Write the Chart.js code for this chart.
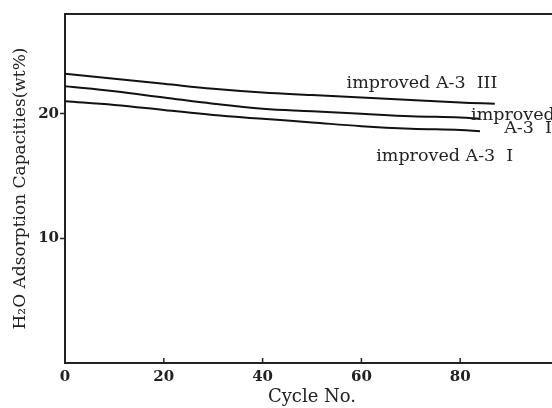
<!DOCTYPE html>
<html>
<head>
<meta charset="utf-8">
<script src="https://cdn.jsdelivr.net/npm/chart.js@4/dist/chart.umd.min.js"></script>
<style>
    html, body { margin: 0; padding: 0; background: #fff; overflow: hidden; }
    #wrap { width: 580px; height: 408px; }
</style>
</head>
<body>
<div id="wrap"><canvas id="cycleChart" width="580" height="408"></canvas></div>
<script>
const cycles = [0, 10, 20, 30, 40, 50, 60, 70, 80, 84];
const cyclesIII = [0, 10, 20, 30, 40, 50, 60, 70, 80, 87];
const capacityIII = [23.2, 22.8, 22.4, 22.0, 21.7, 21.5, 21.3, 21.1, 20.9, 20.8];
const capacityII = [22.2, 21.8, 21.3, 20.8, 20.4, 20.2, 20.0, 19.8, 19.7, 19.6];
const capacityI = [21.0, 20.7, 20.3, 19.9, 19.6, 19.3, 19.0, 18.8, 18.7, 18.6];
const yTickValues = [10, 20];
const xTickValues = [0, 20, 40, 60, 80];
const seriesLabels = [
    { text: "improved A-3  III", x: 57, y: 22.4 },
    { text: "improved", x: 82.2, y: 19.85 },
    { text: "A-3  II", x: 88.9, y: 18.8 },
    { text: "improved A-3  I", x: 63, y: 16.6 }
];

const serif = "'DejaVu Serif', 'Liberation Serif', serif";

function toPoints(xs, ys) {
    return xs.map((x, i) => ({ x: x, y: ys[i] }));
}

const lineStyle = {
    borderColor: "#111",
    borderWidth: 2,
    pointRadius: 0,
    tension: 0.4,
    fill: false
};

// text labels + inward x ticks
const annotate = {
    id: "annotate",
    afterDatasetsDraw(chart) {
        const { ctx, scales: { x, y } } = chart;
        ctx.save();
        ctx.strokeStyle = "#222";
        ctx.lineWidth = 1.5;
        for (const v of xTickValues.slice(1)) {
            const px = x.getPixelForValue(v);
            ctx.beginPath();
            ctx.moveTo(px, y.bottom);
            ctx.lineTo(px, y.bottom - 5);
            ctx.stroke();
        }
        ctx.fillStyle = "#222";
        ctx.font = "17.5px " + serif;
        ctx.textBaseline = "middle";
        ctx.textAlign = "left";
        for (const lab of seriesLabels) {
            ctx.fillText(lab.text, x.getPixelForValue(lab.x), y.getPixelForValue(lab.y));
        }
        ctx.restore();
    }
};

new Chart(document.getElementById("cycleChart").getContext("2d"), {
    type: "line",
    data: {
        datasets: [
            { label: "improved A-3 III", data: toPoints(cyclesIII, capacityIII), ...lineStyle },
            { label: "improved A-3 II", data: toPoints(cycles, capacityII), ...lineStyle },
            { label: "improved A-3 I", data: toPoints(cycles, capacityI), ...lineStyle }
        ]
    },
    options: {
        responsive: false,
        animation: false,
        layout: { padding: { top: 14, right: 21, left: 0, bottom: 0 } },
        scales: {
            x: {
                type: "linear",
                min: 0,
                max: 100,
                afterFit(scale) { scale.height = 45; },
                afterBuildTicks(scale) { scale.ticks = xTickValues.map(v => ({ value: v })); },
                border: { display: true, color: "#222", width: 2 },
                grid: { display: false, tickLength: 0 },
                ticks: {
                    color: "#222",
                    padding: 5,
                    maxRotation: 0,
                    font: { family: serif, size: 15, weight: "bold" }
                },
                title: {
                    display: true,
                    text: "Cycle No.",
                    color: "#222",
                    padding: { top: 0, bottom: 0 },
                    font: { family: serif, size: 18 }
                }
            },
            y: {
                min: 0,
                max: 28,
                afterFit(scale) { scale.width = 65; },
                afterBuildTicks(scale) { scale.ticks = yTickValues.map(v => ({ value: v })); },
                border: { display: true, color: "#222", width: 2 },
                grid: { drawOnChartArea: false, tickLength: 5, color: "#222", tickWidth: 1.5 },
                ticks: {
                    color: "#222",
                    padding: 1,
                    font: { family: serif, size: 15, weight: "bold" }
                },
                title: {
                    display: true,
                    text: "H₂O Adsorption Capacities(wt%)",
                    color: "#222",
                    padding: { top: 10, bottom: 0 },
                    font: { family: serif, size: 17 }
                }
            }
        },
        plugins: {
            legend: { display: false },
            tooltip: { enabled: false }
        }
    },
    plugins: [annotate, {
        id: "topBorder",
        afterDraw(chart) {
            const { ctx, chartArea } = chart;
            ctx.save();
            ctx.strokeStyle = "#222";
            ctx.lineWidth = 2;
            ctx.beginPath();
            ctx.moveTo(chartArea.left, chartArea.top);
            ctx.lineTo(chartArea.right, chartArea.top);
            ctx.stroke();
            ctx.restore();
        }
    }]
});
</script>
</body>
</html>
